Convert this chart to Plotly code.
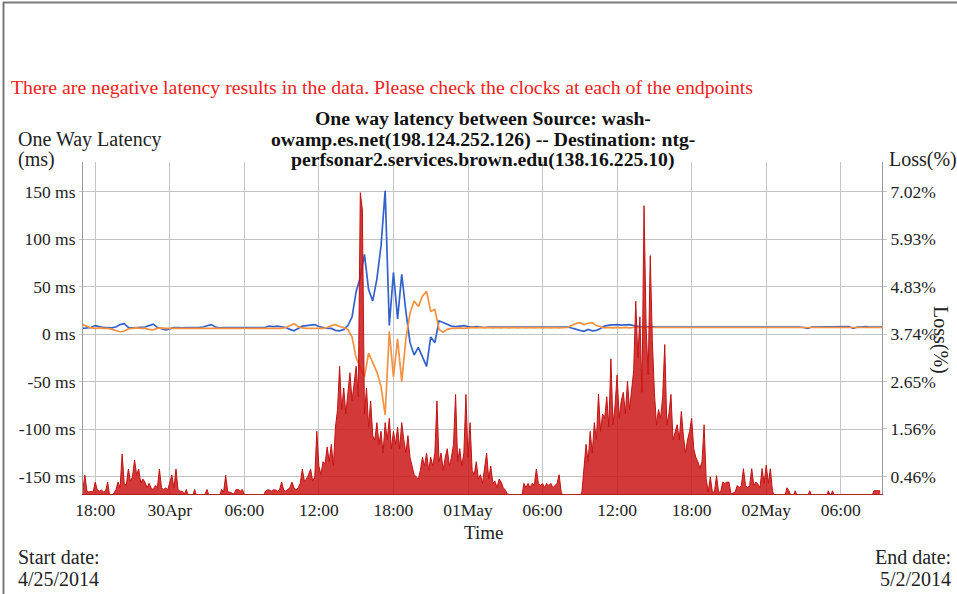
import pandas as pd
import plotly.graph_objects as go

# ---------------- data ----------------
loss_start = "2014-04-29 17:00"   # 10-minute samples
loss_pct = [
    0.15, 0.49, 0.12, 0.10, 0.12, 0.10,
    0.33, 0.15, 0.12, 0.15, 0.10, 0.12,
    0.33, 0.00, 0.00, 0.08, 0.15, 0.33,
    0.20, 0.98, 0.30, 0.25, 0.63, 0.35,
    0.45, 0.84, 0.50, 0.63, 0.30, 0.40,
    0.33, 0.20, 0.30, 0.20, 0.15, 0.25,
    0.20, 0.63, 0.20, 0.15, 0.20, 0.15,
    0.30, 0.49, 0.20, 0.63, 0.15, 0.12,
    0.12, 0.05, 0.16, 0.00, 0.00, 0.00,
    0.16, 0.00, 0.00, 0.00, 0.00, 0.05,
    0.16, 0.00, 0.00, 0.00, 0.00, 0.00,
    0.00, 0.16, 0.10, 0.49, 0.10, 0.10,
    0.08, 0.05, 0.16, 0.16, 0.12, 0.16,
    0.05, 0.00, 0.00, 0.00, 0.00, 0.00,
    0.00, 0.00, 0.00, 0.00, 0.10, 0.15,
    0.15, 0.12, 0.15, 0.15, 0.12, 0.15,
    0.33, 0.15, 0.12, 0.15, 0.20, 0.33,
    0.20, 0.15, 0.20, 0.30, 0.63, 0.35,
    0.40, 0.50, 0.63, 0.35, 0.45, 1.50,
    0.70, 0.50, 0.80, 0.75, 1.14, 0.80,
    1.20, 0.70, 1.60, 2.00, 3.00, 2.00,
    2.50, 1.90, 2.40, 2.85, 2.20, 2.60,
    3.00, 2.30, 7.00, 6.60, 1.90, 2.50,
    1.60, 2.20, 1.40, 1.30, 1.70, 1.20,
    1.50, 1.00, 1.70, 1.30, 1.80, 1.10,
    1.50, 1.20, 1.60, 1.10, 1.70, 1.30,
    1.00, 1.40, 0.90, 0.70, 0.50, 0.45,
    0.40, 0.60, 0.90, 0.70, 1.00, 0.60,
    0.90, 0.70, 1.00, 2.20, 0.80, 1.00,
    0.60, 0.90, 1.10, 0.70, 0.90, 1.20,
    2.35, 0.80, 1.10, 0.70, 1.00, 2.35,
    0.90, 1.70, 0.60, 0.50, 0.80, 0.40,
    0.50, 0.30, 0.60, 1.00, 0.40, 0.70,
    0.30, 0.35, 0.20, 0.40, 0.33, 0.20,
    0.15, 0.05, 0.05, 0.00, 0.05, 0.00,
    0.00, 0.05, 0.00, 0.30, 0.20, 0.30,
    0.20, 0.30, 0.25, 0.63, 0.30, 0.25,
    0.30, 0.20, 0.30, 0.25, 0.30, 0.20,
    0.25, 0.30, 0.50, 0.10, 0.00, 0.00,
    0.00, 0.00, 0.00, 0.00, 0.00, 0.00,
    0.00, 0.10, 0.60, 1.20, 0.80, 1.50,
    1.00, 1.70, 1.30, 2.36, 1.50, 1.90,
    1.80, 2.30, 1.60, 3.17, 1.65, 2.10,
    2.80, 1.80, 2.20, 2.40, 1.90, 2.66,
    2.00, 2.40, 2.90, 4.50, 3.20, 4.14,
    2.40, 6.70, 3.90, 2.80, 5.55, 3.60,
    2.40, 1.65, 2.00, 1.80, 2.30, 3.50,
    1.65, 1.90, 2.35, 1.30, 1.50, 1.65,
    1.30, 1.96, 1.40, 1.00, 1.30, 1.50,
    1.80, 1.10, 0.90, 0.80, 0.65, 0.80,
    1.65, 0.40, 0.10, 0.45, 0.10, 0.10,
    0.48, 0.10, 0.10, 0.33, 0.30, 0.33,
    0.33, 0.05, 0.08, 0.10, 0.25, 0.20,
    0.25, 0.64, 0.25, 0.20, 0.25, 0.64,
    0.25, 0.33, 0.28, 0.20, 0.64, 0.30,
    0.72, 0.30, 0.64, 0.13, 0.00, 0.00,
    0.00, 0.00, 0.00, 0.00, 0.20, 0.13,
    0.00, 0.00, 0.13, 0.00, 0.00, 0.00,
    0.00, 0.00, 0.00, 0.13, 0.00, 0.00,
    0.00, 0.00, 0.00, 0.00, 0.00, 0.00,
    0.13, 0.00, 0.13, 0.00, 0.00, 0.00,
    0.00, 0.00, 0.00, 0.00, 0.00, 0.00,
    0.00, 0.00, 0.00, 0.00, 0.00, 0.00,
    0.00, 0.00, 0.00, 0.00, 0.13, 0.13,
    0.13, 0.13,
]

lat_start = "2014-04-29 17:00"    # 20-minute samples
lat_fwd_ms = [
    6, 6.5, 7,  9, 8, 7,  7, 6.5, 7.5,  10, 11, 7,  6.5, 7, 7,
    7.5, 9, 10.5,  7, 6, 4.5,  5.5, 7, 7,  6.5, 7, 7,  6.5, 7, 7.5,
    9, 10, 7.5,  6.5, 7, 7,  6.5, 7, 7,  6.5, 7, 7,  6.5, 7, 7,
    8.5, 8, 8.5,  8, 7, 5,  3.5, 6, 8.5,  9, 9.5, 10,  8, 7, 6,
    6, 4, 3.5,  5, 9, 18,  45, 60, 84,  47, 35, 58,  93, 151, 9,
    65, 16, 63,  24, -9, -22,  -14, -24, -34,  -3, -9, 14,  12, 10, 8.5,
    8, 8.5, 9,  8, 7.5, 8,  7.5, 7, 7.5,  7.5, 7, 7.5,  7, 7.5, 7.5,
    7, 7.5, 7,  7.5, 7, 7.5,  7, 7.5, 7,  7.5, 7, 7,  7.5, 6.5, 5,
    4, 3, 5,  3.5, 4, 6,  8.5, 9.5, 10,  10, 9.5, 10,  10, 9, 8,
    7.5, 7.5, 8,  7.5, 7.5, 7.5,  8, 7.5, 7.5,  7.5, 8, 7.5,  7.5, 7.5, 8,
    7.5, 7.5, 7.5,  8, 7.5, 7.5,  7.5, 7.5, 8,  7.5, 7.5, 7.5,  8, 7.5, 7.5,
    7.5, 8, 7.5,  7.5, 7.5, 7.5,  7.5, 8, 7.5,  7, 6, 7.5,  7.5, 7.5, 7.5,
    7.5, 8, 7.5,  7.5, 7.5, 8,  6, 7.5, 7.5,  8, 7.5, 7.5,  7.5, 7.5,
]
lat_rev_ms = [
    10, 8, 6.5,  6, 6.5, 6,  6, 5, 4,  2.5, 3, 5.5,  6, 6.5, 6,
    6, 5, 4.5,  6, 6.5, 6,  6, 6.5, 6,  6, 6.5, 6,  6.5, 6, 6,
    6, 6.5, 6,  6, 6, 6.5,  6, 6, 6.5,  6, 6, 6,  6.5, 6, 6,
    6, 6.5, 6,  6, 7, 9,  11, 8, 6.5,  6, 6, 6.5,  6, 6, 7,
    9, 10, 8,  7, 5, -3,  -25, -35, -45,  -20, -30, -40,  -55, -85, 3,
    -45, -5, -50,  -5, 22, 35,  29, 40, 45,  24, 26, 5,  2, 5, 6,
    6, 6.5, 6,  6.5, 7, 6.5,  7, 6.5, 7,  6.5, 7, 6.5,  7, 6.5, 7,
    6.5, 7, 6.5,  7, 6.5, 7,  6.5, 7, 6.5,  7, 6.5, 7,  7, 9, 11,
    12, 10, 11.5,  12, 9, 8,  6.5, 7, 6.5,  7, 6.5, 7,  6.5, 7, 7,
    6.5, 7, 7,  7, 6.5, 7,  7, 7, 6.5,  7, 7, 7,  6.5, 7, 7,
    7, 7, 6.5,  7, 7, 7,  6.5, 7, 7,  7, 7, 6.5,  7, 7, 7,
    6.5, 7, 7,  7, 6.5, 7,  7, 7, 7,  6.5, 7, 7,  7, 7, 6.5,
    7, 7, 7,  6.5, 7, 7,  7, 7, 7,  6.5, 7, 7,  7, 7,
]

x_tick_times = ["2014-04-29 18:00", "2014-04-30 00:00", "2014-04-30 06:00",
                "2014-04-30 12:00", "2014-04-30 18:00", "2014-05-01 00:00",
                "2014-05-01 06:00", "2014-05-01 12:00", "2014-05-01 18:00",
                "2014-05-02 00:00", "2014-05-02 06:00"]
x_tick_labels = ["18:00", "30Apr", "06:00", "12:00", "18:00", "01May",
                 "06:00", "12:00", "18:00", "02May", "06:00"]
lat_ticks = [-150, -100, -50, 0, 50, 100, 150]
lat_tick_labels = ["-150 ms", "-100 ms", "-50 ms", "0 ms", "50 ms", "100 ms", "150 ms"]
loss_ticks = [0.46, 1.56, 2.65, 3.74, 4.83, 5.93, 7.02]
loss_tick_labels = ["0.46%", "1.56%", "2.65%", "3.74%", "4.83%", "5.93%", "7.02%"]

title_lines = ["One way latency between Source: wash-",
               "owamp.es.net(198.124.252.126) -- Destination: ntg-",
               "perfsonar2.services.brown.edu(138.16.225.10)"]
warning_text = "There are negative latency results in the data. Please check the clocks at each of the endpoints"

loss_t = pd.date_range(loss_start, periods=len(loss_pct), freq="10min")
lat_t = pd.date_range(lat_start, periods=len(lat_fwd_ms), freq="20min")

# ---------------- figure ----------------
SERIF = "Liberation Serif, Times New Roman, serif"
fig = go.Figure()

fig.add_trace(go.Scatter(x=loss_t, y=loss_pct, yaxis="y2", mode="lines",
                         line=dict(color="#c41212", width=1),
                         fill="tozeroy", fillcolor="rgba(205,22,22,0.85)",
                         hoverinfo="skip", showlegend=False))
fig.add_trace(go.Scatter(x=lat_t, y=lat_fwd_ms, mode="lines",
                         line=dict(color="#3462cc", width=1.7),
                         showlegend=False))
fig.add_trace(go.Scatter(x=lat_t, y=lat_rev_ms, mode="lines",
                         line=dict(color="#f5913f", width=1.7),
                         showlegend=False))

lat_lo, lat_hi = -168.5, 181.4
k = 1.0933 / 50.0
loss_lo, loss_hi = 3.74 + lat_lo * k, 3.74 + lat_hi * k

tickfont = dict(family=SERIF, size=17.5, color="#222")
fig.update_layout(
    width=957, height=594,
    margin=dict(l=83, r=75, t=162, b=100),
    paper_bgcolor="white", plot_bgcolor="white",
    font=dict(family=SERIF, size=17, color="#222"),
    xaxis=dict(type="date", range=["2014-04-29 17:01", "2014-05-02 09:19"],
               tickvals=x_tick_times, ticktext=x_tick_labels,
               tickfont=tickfont, showgrid=True, gridcolor="#c4c4c4", gridwidth=1,
               showline=True, linecolor="#b42020", linewidth=1,
               ticks="", zeroline=False),
    yaxis=dict(range=[lat_lo, lat_hi], tickvals=lat_ticks, ticktext=lat_tick_labels,
               tickfont=tickfont, showgrid=True, gridcolor="#c4c4c4", gridwidth=1,
               showline=True, linecolor="#9a9a9a", linewidth=1,
               ticks="outside", ticklen=3, tickcolor="#c4c4c4", zeroline=False),
    yaxis2=dict(range=[loss_lo, loss_hi], overlaying="y", side="right",
                tickvals=loss_ticks, ticktext=loss_tick_labels,
                tickfont=tickfont, showgrid=False,
                showline=True, linecolor="#9a9a9a", linewidth=1,
                ticks="outside", ticklen=4, tickcolor="#c4c4c4", zeroline=False),
)

def px(xp):
    return (xp - 83) / 799.0

def py(yp):
    return (494 - yp) / 332.0

def txt(text, x, y, xanchor="left", size=20, color="#222", bold=False, angle=0):
    return dict(text=("<b>%s</b>" % text) if bold else text,
                x=px(x), y=py(y), xanchor=xanchor, yanchor="middle",
                textangle=angle, xref="paper", yref="paper", showarrow=False,
                font=dict(family=SERIF, size=size, color=color))

ann = [txt(warning_text, 9, 87, size=19.8, color="#f02020")]
for i, line in enumerate(title_lines):
    ann.append(txt(line, 483, 118 + 21 * i, xanchor="center", size=19.7,
                   color="#111", bold=True))
ann += [
    txt("One Way Latency", 16, 139),
    txt("(ms)", 16, 160),
    txt("Loss(%)", 887, 160),
    txt("Loss(%)", 941, 340, xanchor="center", angle=90),
    txt("Time", 483, 532, xanchor="center", size=19),
    txt("Start date:", 16, 557),
    txt("4/25/2014", 16, 579),
    txt("End date:", 953, 557, xanchor="right"),
    txt("5/2/2014", 953, 579, xanchor="right"),
]
fig.update_layout(annotations=ann)

fig.update_layout(shapes=[
    dict(type="line", xref="paper", yref="paper", x0=px(3), x1=px(960),
         y0=py(2.5), y1=py(2.5), line=dict(color="#7a7a7a", width=2)),
    dict(type="line", xref="paper", yref="paper", x0=px(3.5), x1=px(3.5),
         y0=py(2), y1=py(600), line=dict(color="#7a7a7a", width=2)),
])

fig.write_html("out.html", config={"displayModeBar": False},
               post_script="document.body.style.margin='0';document.body.style.overflow='hidden';")
